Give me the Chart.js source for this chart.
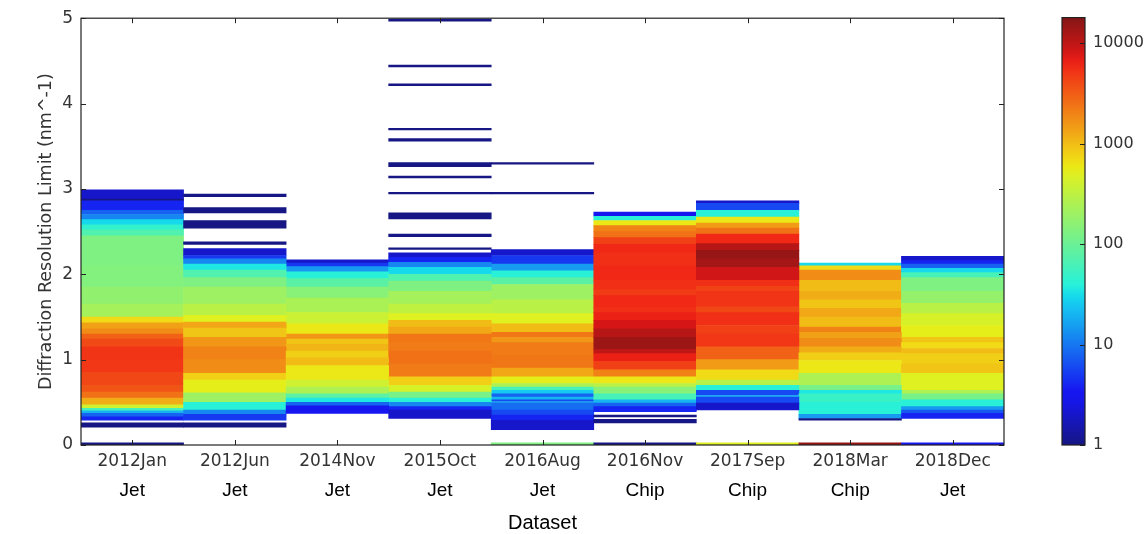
<!DOCTYPE html>
<html>
<head>
<meta charset="utf-8">
<script src="https://cdn.jsdelivr.net/npm/chart.js@4.4.1/dist/chart.umd.min.js"></script>
<style>
  html, body { margin: 0; padding: 0; background: #fff; }
  #wrap { position: relative; width: 1148px; height: 534px; }
  #mainChart { position: absolute; left: 0; top: 0; }
  #colorBar { position: absolute; left: 1040px; top: 0; }
</style>
</head>
<body>
<div id="wrap">
  <canvas id="mainChart" width="1148" height="534"></canvas>
  <canvas id="colorBar" width="108" height="534"></canvas>
</div>
<script>
// categories
const datasetNames = ['2012Jan', '2012Jun', '2014Nov', '2015Oct', '2016Aug', '2016Nov', '2017Sep', '2018Mar', '2018Dec'];
const detectorTypes = ['Jet', 'Jet', 'Jet', 'Jet', 'Jet', 'Chip', 'Chip', 'Chip', 'Jet'];
const yTicks = [0, 1, 2, 3, 4, 5];
const countTicks = [1, 10, 100, 1000, 10000];
const countMax = 18000;

// bands per dataset: [resolution from, resolution to, pattern count]
const seg2012Jan = [
    [0, 0.025, 1], [0.21, 0.26, 1], [0.29, 0.33, 4], [0.33, 0.37, 8], [0.37, 0.40, 20],
    [0.40, 0.43, 60], [0.43, 0.47, 400], [0.47, 0.55, 1200], [0.55, 0.62, 2500], [0.62, 0.70, 3500],
    [0.70, 0.85, 4200], [0.85, 1.00, 5000], [1.00, 1.15, 5200], [1.15, 1.24, 4000], [1.24, 1.30, 3000],
    [1.30, 1.36, 1800], [1.36, 1.43, 1400], [1.43, 1.50, 700], [1.50, 1.65, 220], [1.65, 1.85, 170],
    [1.85, 2.10, 140], [2.10, 2.45, 130], [2.45, 2.52, 70], [2.52, 2.58, 45], [2.58, 2.64, 30],
    [2.64, 2.70, 12], [2.70, 2.75, 8], [2.75, 2.86, 4], [2.86, 2.88, 1], [2.88, 2.99, 2]
];
const seg2012Jun = [
    [0.21, 0.26, 1], [0.29, 0.36, 5], [0.36, 0.41, 12], [0.41, 0.50, 40], [0.50, 0.61, 200],
    [0.61, 0.76, 550], [0.76, 0.84, 800], [0.84, 1.00, 1800], [1.00, 1.15, 2000], [1.15, 1.26, 1600],
    [1.26, 1.37, 900], [1.37, 1.44, 1300], [1.44, 1.52, 500], [1.52, 1.65, 300], [1.65, 1.85, 200],
    [1.85, 1.96, 130], [1.96, 2.05, 70], [2.05, 2.12, 35], [2.12, 2.18, 12], [2.18, 2.22, 5],
    [2.22, 2.30, 2], [2.35, 2.38, 1], [2.54, 2.63, 1], [2.72, 2.78, 1], [2.91, 2.94, 1]
];
const seg2014Nov = [
    [0.37, 0.46, 3], [0.46, 0.50, 8], [0.50, 0.55, 35], [0.55, 0.60, 80], [0.60, 0.68, 250],
    [0.68, 0.76, 400], [0.76, 0.93, 600], [0.93, 1.02, 1000], [1.02, 1.10, 800], [1.10, 1.18, 1100],
    [1.18, 1.24, 900], [1.24, 1.30, 1600], [1.30, 1.42, 600], [1.42, 1.55, 380], [1.55, 1.72, 240],
    [1.72, 1.85, 150], [1.85, 1.95, 80], [1.95, 2.03, 40], [2.03, 2.09, 15], [2.09, 2.13, 5],
    [2.13, 2.17, 2]
];
const seg2015Oct = [
    [0.31, 0.41, 2], [0.41, 0.45, 4], [0.45, 0.50, 12], [0.50, 0.55, 40], [0.55, 0.62, 120],
    [0.62, 0.70, 450], [0.70, 0.80, 800], [0.80, 0.95, 2200], [0.95, 1.10, 2500], [1.10, 1.20, 2200],
    [1.20, 1.30, 2300], [1.30, 1.38, 1300], [1.38, 1.46, 1000], [1.46, 1.54, 500], [1.54, 1.65, 320],
    [1.65, 1.80, 220], [1.80, 1.92, 130], [1.92, 2.00, 70], [2.00, 2.08, 30], [2.08, 2.14, 12],
    [2.14, 2.20, 4], [2.20, 2.25, 2], [2.29, 2.31, 1], [2.44, 2.47, 1], [2.65, 2.72, 1],
    [2.94, 2.96, 1], [3.13, 3.15, 1], [3.26, 3.31, 1], [3.56, 3.59, 1], [3.69, 3.71, 1],
    [4.21, 4.23, 1], [4.43, 4.45, 1], [4.965, 4.99, 1]
];
const seg2016Aug = [
    [0, 0.025, 130], [0.18, 0.29, 2], [0.29, 0.35, 4], [0.35, 0.41, 6], [0.41, 0.49, 9],
    [0.49, 0.51, 16], [0.51, 0.53, 6], [0.53, 0.56, 20], [0.56, 0.60, 8], [0.60, 0.64, 25],
    [0.64, 0.68, 60], [0.68, 0.72, 250], [0.72, 0.80, 550], [0.80, 0.90, 1300], [0.90, 1.05, 2300],
    [1.05, 1.20, 2200], [1.20, 1.26, 1600], [1.26, 1.32, 2300], [1.32, 1.42, 1000], [1.42, 1.54, 500],
    [1.54, 1.70, 300], [1.70, 1.88, 200], [1.88, 1.96, 80], [1.96, 2.04, 40], [2.04, 2.12, 15],
    [2.12, 2.22, 5], [2.22, 2.29, 2], [2.94, 2.96, 1], [3.29, 3.31, 1]
];
const seg2016Nov = [
    [0, 0.025, 1], [0.26, 0.30, 1], [0.33, 0.35, 1], [0.39, 0.45, 4], [0.45, 0.49, 8],
    [0.49, 0.53, 20], [0.53, 0.60, 60], [0.60, 0.68, 150], [0.68, 0.72, 300], [0.72, 0.80, 600],
    [0.80, 0.88, 2000], [0.88, 0.98, 4500], [0.98, 1.07, 6500], [1.07, 1.12, 10000], [1.12, 1.26, 14000],
    [1.26, 1.36, 11000], [1.36, 1.46, 8000], [1.46, 1.55, 6500], [1.55, 1.61, 5500], [1.61, 1.75, 6000],
    [1.75, 1.82, 4800], [1.82, 1.93, 5500], [1.93, 2.10, 6000], [2.10, 2.25, 5500], [2.25, 2.35, 6000],
    [2.35, 2.43, 4500], [2.43, 2.50, 2500], [2.50, 2.57, 2000], [2.57, 2.63, 600], [2.63, 2.68, 40],
    [2.68, 2.73, 3]
];
const seg2017Sep = [
    [0, 0.025, 500], [0.41, 0.49, 2], [0.49, 0.56, 6], [0.56, 0.58, 20], [0.58, 0.64, 6],
    [0.64, 0.70, 40], [0.70, 0.76, 300], [0.76, 0.88, 700], [0.88, 1.00, 1500], [1.00, 1.15, 3000],
    [1.15, 1.30, 5000], [1.30, 1.40, 4500], [1.40, 1.55, 5500], [1.55, 1.62, 4200], [1.62, 1.80, 5200],
    [1.80, 1.86, 4400], [1.86, 1.93, 5500], [1.93, 2.08, 8500], [2.08, 2.18, 13000], [2.18, 2.28, 15000],
    [2.28, 2.36, 11000], [2.36, 2.47, 6000], [2.47, 2.54, 2500], [2.54, 2.60, 1500], [2.60, 2.67, 600],
    [2.67, 2.75, 40], [2.75, 2.83, 6], [2.83, 2.86, 2]
];
const seg2018Mar = [
    [0, 0.025, 15000], [0.29, 0.31, 1], [0.31, 0.36, 15], [0.36, 0.50, 40], [0.50, 0.60, 50],
    [0.60, 0.64, 35], [0.64, 0.70, 120], [0.70, 0.84, 250], [0.84, 0.99, 600], [0.99, 1.08, 800],
    [1.08, 1.15, 1200], [1.15, 1.25, 1800], [1.25, 1.32, 1400], [1.32, 1.38, 2000], [1.38, 1.50, 1000],
    [1.50, 1.60, 1300], [1.60, 1.70, 900], [1.70, 1.80, 1200], [1.80, 1.93, 1000], [1.93, 2.05, 1800],
    [2.05, 2.10, 700], [2.10, 2.13, 30]
];
const seg2018Dec = [
    [0, 0.025, 3], [0.31, 0.37, 4], [0.37, 0.41, 7], [0.41, 0.45, 15], [0.45, 0.53, 40],
    [0.53, 0.60, 120], [0.60, 0.64, 250], [0.64, 0.84, 500], [0.84, 0.95, 900], [0.95, 1.07, 800],
    [1.07, 1.13, 1000], [1.13, 1.20, 700], [1.20, 1.26, 900], [1.26, 1.40, 550], [1.40, 1.54, 450],
    [1.54, 1.66, 300], [1.66, 1.80, 180], [1.80, 1.96, 130], [1.96, 2.02, 60], [2.02, 2.07, 30],
    [2.07, 2.12, 8], [2.12, 2.16, 4], [2.16, 2.21, 2]
];

const columns = [seg2012Jan, seg2012Jun, seg2014Nov, seg2015Oct, seg2016Aug, seg2016Nov, seg2017Sep, seg2018Mar, seg2018Dec];

// jet colormap, a little muted like the source picture
const jetR = [[0, 0], [0.35, 0], [0.66, 1], [0.89, 1], [1, 0.5]];
const jetG = [[0, 0], [0.125, 0], [0.375, 1], [0.64, 1], [0.91, 0], [1, 0]];
const jetB = [[0, 0.5], [0.11, 1], [0.34, 1], [0.65, 0], [1, 0]];

function channel(pts, t) {
    for (let i = 1; i < pts.length; i++) {
        if (t <= pts[i][0]) {
            const a = pts[i - 1], b = pts[i];
            return a[1] + (b[1] - a[1]) * (t - a[0]) / (b[0] - a[0]);
        }
    }
    return pts[pts.length - 1][1];
}
function jetAt(t) {
    t = Math.max(0, Math.min(1, t));
    const f = v => Math.round(22 + 0.86 * 255 * v);
    return 'rgb(' + f(channel(jetR, t)) + ',' + f(channel(jetG, t)) + ',' + f(channel(jetB, t)) + ')';
}
function countColor(c) {
    return jetAt(Math.log10(c) / Math.log10(countMax));
}

// one floating-bar dataset per band index
const nLayers = Math.max(...columns.map(c => c.length));
const layers = [];
for (let k = 0; k < nLayers; k++) {
    layers.push({
        data: columns.map(col => col[k] ? [col[k][0], col[k][1]] : null),
        backgroundColor: columns.map(col => col[k] ? countColor(col[k][2]) : 'rgba(0,0,0,0)'),
        borderWidth: 0,
        grouped: false,
        barPercentage: 1,
        categoryPercentage: 1
    });
}

// matplotlib style box with inward ticks
const frame = {
    id: 'frame',
    afterDatasetsDraw(chart, args, opts) {
        const { ctx, chartArea: a } = chart;
        ctx.save();
        ctx.strokeStyle = '#222';
        ctx.lineWidth = 1.2;
        ctx.strokeRect(a.left, a.top, a.right - a.left, a.bottom - a.top);
        ctx.lineWidth = 1;
        ctx.beginPath();
        const ys = chart.scales[opts.yId];
        ys.ticks.forEach((t, i) => {
            const y = Math.round(ys.getPixelForTick(i)) + 0.5;
            if (opts.leftTicks) { ctx.moveTo(a.left, y); ctx.lineTo(a.left + 5, y); }
            ctx.moveTo(a.right, y); ctx.lineTo(a.right - 5, y);
        });
        if (opts.xId) {
            const xs = chart.scales[opts.xId];
            xs.ticks.forEach((t, i) => {
                const x = Math.round(xs.getPixelForTick(i)) + 0.5;
                ctx.moveTo(x, a.bottom); ctx.lineTo(x, a.bottom - 5);
                ctx.moveTo(x, a.top); ctx.lineTo(x, a.top + 5);
            });
        }
        ctx.stroke();
        ctx.restore();
    }
};

new Chart(document.getElementById('mainChart').getContext('2d'), {
    type: 'bar',
    data: { labels: datasetNames, datasets: layers },
    plugins: [frame],
    options: {
        responsive: false,
        animation: false,
        layout: { padding: { left: 0, right: 144, top: 17, bottom: 0 } },
        plugins: {
            legend: { display: false },
            tooltip: { enabled: false },
            frame: { yId: 'y', xId: 'x', leftTicks: true }
        },
        scales: {
            x: {
                type: 'category',
                grid: { display: false, drawTicks: false },
                border: { display: false },
                ticks: { color: '#333', padding: 6, maxRotation: 0, font: { family: 'DejaVu Sans', size: 17 } },
                afterFit: s => { s.height = 30; }
            },
            x2: {
                type: 'category',
                labels: detectorTypes,
                position: 'bottom',
                grid: { display: false, drawTicks: false },
                border: { display: false },
                ticks: { color: '#000', padding: 4, maxRotation: 0, font: { family: 'Liberation Sans', size: 19 } },
                title: {
                    display: true,
                    text: 'Dataset',
                    color: '#000',
                    padding: { top: 0, bottom: 0 },
                    font: { family: 'Liberation Sans', size: 20, lineHeight: 1.1 }
                },
                afterFit: s => { s.height = 59; }
            },
            y: {
                min: 0,
                max: 5,
                afterBuildTicks: s => { s.ticks = yTicks.map(v => ({ value: v })); },
                grid: { display: false, drawTicks: false },
                border: { display: false },
                ticks: { color: '#333', padding: 8, font: { family: 'DejaVu Sans', size: 17 } },
                title: {
                    display: true,
                    text: 'Diffraction Resolution Limit (nm^-1)',
                    color: '#333',
                    padding: { top: 36, bottom: 0 },
                    font: { family: 'DejaVu Sans', size: 17.5 }
                },
                afterFit: s => { s.width = 81; }
            }
        }
    }
});

// colour bar
new Chart(document.getElementById('colorBar').getContext('2d'), {
    type: 'bar',
    data: {
        labels: [''],
        datasets: [{
            data: [[1, countMax]],
            borderWidth: 0,
            barPercentage: 1,
            categoryPercentage: 1,
            backgroundColor: (c) => {
                const a = c.chart.chartArea;
                if (!a) return '#888';
                const g = c.chart.ctx.createLinearGradient(0, a.bottom, 0, a.top);
                for (let i = 0; i <= 40; i++) g.addColorStop(i / 40, jetAt(i / 40));
                return g;
            }
        }]
    },
    plugins: [frame],
    options: {
        responsive: false,
        animation: false,
        layout: { padding: { left: 22, right: 0, top: 17, bottom: 89 } },
        plugins: {
            legend: { display: false },
            tooltip: { enabled: false },
            frame: { yId: 'y', leftTicks: false }
        },
        scales: {
            x: { display: false },
            y: {
                type: 'logarithmic',
                position: 'right',
                min: 1,
                max: countMax,
                afterBuildTicks: s => { s.ticks = countTicks.map(v => ({ value: v })); },
                grid: { display: false, drawTicks: false },
                border: { display: false },
                ticks: { color: '#333', padding: 8, callback: v => String(v), font: { family: 'DejaVu Sans', size: 16 } },
                afterFit: s => { s.width = 63; }
            }
        }
    }
});
</script>
</body>
</html>
